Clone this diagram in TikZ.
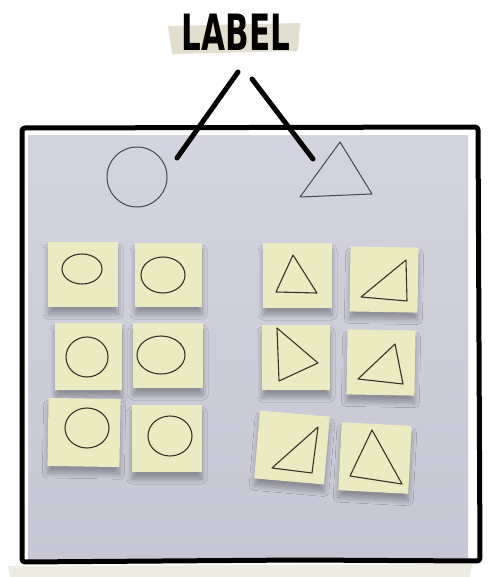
\documentclass[tikz,border=0pt]{standalone}
\usepackage{fontspec}
\usepackage{graphicx}
\usetikzlibrary{shadows.blur}
\newfontfamily\labelfont{DejaVu Sans}

\definecolor{paper}{RGB}{198,198,212}
\definecolor{paperlight}{RGB}{212,212,224}
\definecolor{postityellow}{RGB}{236,234,192}
\definecolor{tape}{RGB}{226,223,206}
\definecolor{tapelight}{RGB}{238,236,226}
\definecolor{penink}{RGB}{55,50,42}
\definecolor{pencil}{RGB}{70,70,82}

\tikzset{
  postit/.style={fill=postityellow, inner sep=0pt,
    blur shadow={shadow xshift=0pt, shadow yshift=-7pt, shadow blur radius=5pt,
      shadow opacity=30, shadow blur steps=8}},
  ink/.style={draw=penink, line width=1.1pt, line join=round},
  marker/.style={line width=5pt, line cap=round, line join=round}
}

\begin{document}
\begin{tikzpicture}[x=1pt, y=-1pt]
  \useasboundingbox (0,0) rectangle (488,577);

  % tape and title
  \fill[tape] (168,26) -- (300,23) -- (298,51) -- (172,54) -- cycle;
  \node[font=\labelfont] (label) at (236,32)
    {\scalebox{0.62}[1]{\fontsize{50}{50}\selectfont\bfseries LABEL}};

  % shadow strip under the frame
  \fill[tapelight] (8,566) -- (472,564) -- (470,577) -- (10,577) -- cycle;

  % photo of the sheet
  \shade[top color=paperlight, bottom color=paper] (28,136) rectangle (468,559);

  % frame
  \draw[marker, rounded corners=3pt] (22,128) -- (478,127) -- (480,561) -- (300,560) -- (22,562) -- cycle;

  % label pointers
  \coordinate (leftEnd) at (177,158);
  \coordinate (rightEnd) at (313,159);
  \draw[marker] (238,72) -- (leftEnd);
  \draw[marker] (252,79) -- (rightEnd);

  % big shapes on the sheet
  \draw[pencil, line width=1pt] (137,177) ellipse [x radius=30, y radius=30];
  \draw[pencil, line width=1pt, line join=round] (340,142) -- (372,194) -- (300,197) -- cycle;

  % circle notes
  \node[postit, minimum width=70pt, minimum height=65pt] (n1) at (83,274.5) {};
  \node[postit, minimum width=67pt, minimum height=64pt] (n2) at (168.5,275) {};
  \node[postit, minimum width=67pt, minimum height=67pt] (n3) at (88.5,356.5) {};
  \node[postit, minimum width=70pt, minimum height=65pt] (n4) at (168,355.5) {};
  \node[postit, minimum width=72pt, minimum height=68pt, rotate=-1] (n5) at (84,432.5) {};
  \node[postit, minimum width=70pt, minimum height=67pt] (n6) at (167,438.5) {};
  \draw[ink] (82,269) ellipse [x radius=20, y radius=15];
  \draw[ink] (163,275) ellipse [x radius=22, y radius=18];
  \draw[ink] (87,357) ellipse [x radius=21, y radius=20];
  \draw[ink] (161,355) ellipse [x radius=24, y radius=19];
  \draw[ink] (87,428) ellipse [x radius=22, y radius=20];
  \draw[ink] (170,436) ellipse [x radius=22, y radius=20];

  % triangle notes
  \node[postit, minimum width=69pt, minimum height=65pt] (n7) at (297.5,275.5) {};
  \node[postit, minimum width=68pt, minimum height=65pt, rotate=-1] (n8) at (384,279.5) {};
  \node[postit, minimum width=68pt, minimum height=65pt] (n9) at (296,357.5) {};
  \node[postit, minimum width=68pt, minimum height=65pt, rotate=-1] (n10) at (381,362.5) {};
  \node[postit, minimum width=70pt, minimum height=68pt, rotate=-5] (n11) at (292,447.5) {};
  \node[postit, minimum width=70pt, minimum height=68pt, rotate=-3] (n12) at (375,458) {};
  \draw[ink] (293,255) -- (317,293) -- (276,292) -- cycle;
  \draw[ink] (406,260) -- (407,301) -- (361,297) -- cycle;
  \draw[ink] (277,328) -- (318,363) -- (279,381) -- cycle;
  \draw[ink] (395,344) -- (403,384) -- (358,379) -- cycle;
  \draw[ink] (318,427) -- (312,473) -- (272,468) -- cycle;
  \draw[ink] (372,430) -- (402,484) -- (350,476) -- cycle;
\end{tikzpicture}
\end{document}
